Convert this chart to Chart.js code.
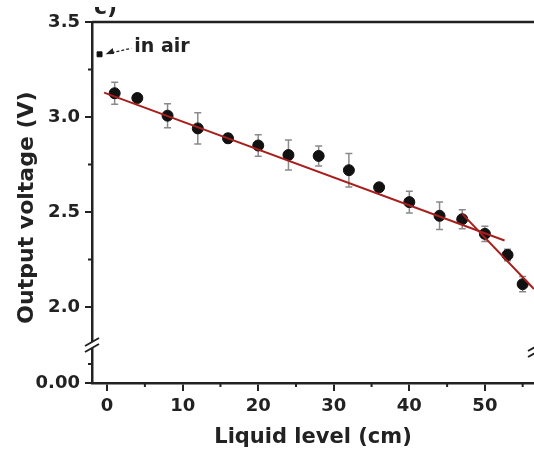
<!DOCTYPE html>
<html>
<head>
<meta charset="utf-8">
<script src="https://cdn.jsdelivr.net/npm/chart.js@4"></script>
<style>
  html, body { margin: 0; padding: 0; background: #fff; overflow: hidden; }
  #wrap { width: 534px; height: 455px; position: relative; }
</style>
</head>
<body>
<div id="wrap"><canvas id="chart"></canvas></div>
<script>
// Measured points (liquid level in cm, output voltage in V, error bar half-height)
const levels = [1, 4, 8, 12, 16, 20, 24, 28, 32, 36, 40, 44, 47, 50, 53, 55];
const voltages = [3.125, 3.10, 3.007, 2.94, 2.888, 2.85, 2.80, 2.795, 2.72, 2.63, 2.552, 2.48, 2.462, 2.385, 2.274, 2.12];
const errors = [0.058, 0.02, 0.063, 0.082, 0.022, 0.057, 0.079, 0.053, 0.088, 0.02, 0.057, 0.072, 0.05, 0.04, 0.03, 0.04];

// Reading in air
const airLevel = [-1];
const airVoltage = [3.33];

// Linear fits
const fit1Level = [-0.4, 52.6];
const fit1Voltage = [3.128, 2.35];
const fit2Level = [47, 56.5];
const fit2Voltage = [2.49, 2.095];

// Axis ticks
const xTicks = [0, 10, 20, 30, 40, 50];
const xMinor = [5, 15, 25, 35, 45, 55];
const yTicks = [2.0, 2.5, 3.0, 3.5];
const yMinor = [2.25, 2.75, 3.25];
const yLowTicks = [0];
const yLowMinor = [0.05];

const INK = '#222';
const FIT_RED = '#a81e1c';
const FONT = '"DejaVu Sans", sans-serif';

const toXY = (xs, ys) => xs.map((x, i) => ({ x, y: ys[i] }));

const extrasPlugin = {
  id: 'extras',
  beforeDatasetsDraw(chart) {
    // error bars behind the points
    const { ctx } = chart;
    const xs = chart.scales.x, ys = chart.scales.y;
    ctx.save();
    ctx.strokeStyle = '#8a8a8a';
    ctx.lineWidth = 1.5;
    levels.forEach((lv, i) => {
      const px = xs.getPixelForValue(lv);
      const top = ys.getPixelForValue(voltages[i] + errors[i]);
      const bot = ys.getPixelForValue(voltages[i] - errors[i]);
      ctx.beginPath();
      ctx.moveTo(px, top); ctx.lineTo(px, bot);
      ctx.moveTo(px - 3.5, top); ctx.lineTo(px + 3.5, top);
      ctx.moveTo(px - 3.5, bot); ctx.lineTo(px + 3.5, bot);
      ctx.stroke();
    });
    ctx.restore();
  },
  afterDraw(chart) {
    const { ctx, chartArea } = chart;
    const xs = chart.scales.x, ys = chart.scales.y, yl = chart.scales.y0;
    ctx.save();

    // top frame line
    ctx.strokeStyle = INK;
    ctx.lineWidth = 2.5;
    ctx.beginPath();
    ctx.moveTo(chartArea.left, chartArea.top);
    ctx.lineTo(chartArea.right, chartArea.top);
    ctx.stroke();

    // minor ticks
    ctx.lineWidth = 2;
    ctx.beginPath();
    xMinor.forEach(v => {
      const px = xs.getPixelForValue(v);
      ctx.moveTo(px, chartArea.bottom); ctx.lineTo(px, chartArea.bottom + 4);
    });
    yMinor.forEach(v => {
      const py = ys.getPixelForValue(v);
      ctx.moveTo(chartArea.left, py); ctx.lineTo(chartArea.left - 4, py);
    });
    yLowMinor.forEach(v => {
      const py = yl.getPixelForValue(v);
      ctx.moveTo(chartArea.left, py); ctx.lineTo(chartArea.left - 4, py);
    });
    ctx.stroke();

    // axis break marks
    const breakY = ys.bottom;
    const drawBreak = (cx, cy) => {
      ctx.fillStyle = '#fff';
      ctx.fillRect(cx - 4, cy - 3, 8, 6);
      ctx.strokeStyle = INK;
      ctx.lineWidth = 2;
      ctx.beginPath();
      ctx.moveTo(cx - 7, cy + 1); ctx.lineTo(cx + 7, cy - 7);
      ctx.moveTo(cx - 7, cy + 7); ctx.lineTo(cx + 7, cy - 1);
      ctx.stroke();
    };
    drawBreak(chartArea.left, breakY);
    drawBreak(chartArea.right + 1, breakY + 5);

    // y axis title
    ctx.fillStyle = INK;
    ctx.font = 'bold 22px ' + FONT;
    ctx.textAlign = 'center';
    ctx.textBaseline = 'middle';
    ctx.translate(27, (chartArea.top + chartArea.bottom) / 2 + 5);
    ctx.rotate(-Math.PI / 2);
    ctx.fillText('Output voltage (V)', 0, 0);
    ctx.setTransform(1, 0, 0, 1, 0, 0);

    // "in air" annotation
    const ax = xs.getPixelForValue(airLevel[0]) + 6;
    const ay = ys.getPixelForValue(airVoltage[0]);
    const tx = xs.getPixelForValue(3.6);
    const ty = ys.getPixelForValue(3.367);
    ctx.strokeStyle = INK;
    ctx.lineWidth = 1.3;
    ctx.setLineDash([3, 2]);
    ctx.beginPath();
    ctx.moveTo(ax + 6, ay - 1.5);
    ctx.lineTo(tx - 3, ty + 1);
    ctx.stroke();
    ctx.setLineDash([]);
    const ang = Math.atan2((ty + 1) - (ay - 1.5), (tx - 3) - (ax + 6));
    ctx.beginPath();
    ctx.moveTo(ax, ay);
    ctx.lineTo(ax + 8 * Math.cos(ang) - 3 * Math.sin(ang), ay + 8 * Math.sin(ang) + 3 * Math.cos(ang) - 1.5);
    ctx.lineTo(ax + 8 * Math.cos(ang) + 3 * Math.sin(ang), ay + 8 * Math.sin(ang) - 3 * Math.cos(ang) - 1.5);
    ctx.closePath();
    ctx.fill();
    ctx.font = 'bold 19px ' + FONT;
    ctx.textAlign = 'left';
    ctx.fillText('in air', tx, ty);

    // panel label, mostly cut off at the top edge
    ctx.beginPath();
    ctx.rect(80, 7, 60, 12);
    ctx.clip();
    ctx.font = 'bold 22px ' + FONT;
    ctx.textBaseline = 'alphabetic';
    ctx.fillText('c)', 94, 14);

    ctx.restore();
  }
};

const tickFont = { family: FONT, size: 18, weight: 'bold' };

new Chart(document.getElementById('chart'), {
  type: 'scatter',
  data: {
    datasets: [
      {
        type: 'line',
        data: toXY(fit1Level, fit1Voltage),
        yAxisID: 'y',
        borderColor: FIT_RED,
        borderWidth: 2,
        pointRadius: 0,
        order: 0
      },
      {
        type: 'line',
        data: toXY(fit2Level, fit2Voltage),
        yAxisID: 'y',
        borderColor: FIT_RED,
        borderWidth: 2,
        pointRadius: 0,
        order: 0
      },
      {
        data: toXY(levels, voltages),
        yAxisID: 'y',
        backgroundColor: '#111',
        borderColor: '#111',
        pointRadius: 5.5,
        order: 1
      },
      {
        data: toXY(airLevel, airVoltage),
        yAxisID: 'y',
        backgroundColor: '#111',
        borderColor: '#111',
        pointStyle: 'rect',
        pointRadius: 3.5,
        order: 1
      }
    ]
  },
  options: {
    responsive: true,
    maintainAspectRatio: false,
    animation: false,
    layout: { autoPadding: false, padding: { top: 22, right: 0, left: 0, bottom: 0 } },
    plugins: {
      legend: { display: false },
      tooltip: { enabled: false }
    },
    scales: {
      x: {
        type: 'linear',
        min: -2,
        max: 56.5,
        afterBuildTicks: (scale) => { scale.ticks = xTicks.map(v => ({ value: v })); },
        afterFit: (scale) => { scale.height = 72; scale.paddingRight = 0; scale.paddingLeft = 0; },
        grid: { drawOnChartArea: false, drawTicks: true, tickLength: 8, color: INK, lineWidth: 2 },
        border: { display: true, color: INK, width: 2.5 },
        ticks: { color: INK, font: tickFont, padding: 5, maxRotation: 0 },
        title: {
          display: true,
          text: 'Liquid level (cm)',
          color: INK,
          font: { family: FONT, size: 21, weight: 'bold' },
          padding: { top: 0, bottom: 5 }
        }
      },
      y0: {
        type: 'linear',
        position: 'left',
        stack: 'volts',
        stackWeight: 38,
        min: 0,
        max: 0.1,
        afterBuildTicks: (scale) => { scale.ticks = yLowTicks.map(v => ({ value: v })); },
        afterFit: (scale) => { scale.width = 92; },
        grid: { drawOnChartArea: false, drawTicks: true, tickLength: 7, color: INK, lineWidth: 2 },
        border: { display: true, color: INK, width: 2.5 },
        ticks: { color: INK, font: tickFont, padding: 5, callback: (v) => v.toFixed(2) }
      },
      y: {
        type: 'linear',
        position: 'left',
        stack: 'volts',
        stackWeight: 323,
        min: 1.8,
        max: 3.5,
        afterBuildTicks: (scale) => { scale.ticks = yTicks.map(v => ({ value: v })); },
        afterFit: (scale) => { scale.width = 92; },
        grid: { drawOnChartArea: false, drawTicks: true, tickLength: 7, color: INK, lineWidth: 2 },
        border: { display: true, color: INK, width: 2.5 },
        ticks: { color: INK, font: tickFont, padding: 5, callback: (v) => v.toFixed(1) }
      }
    }
  },
  plugins: [extrasPlugin]
});
</script>
</body>
</html>
